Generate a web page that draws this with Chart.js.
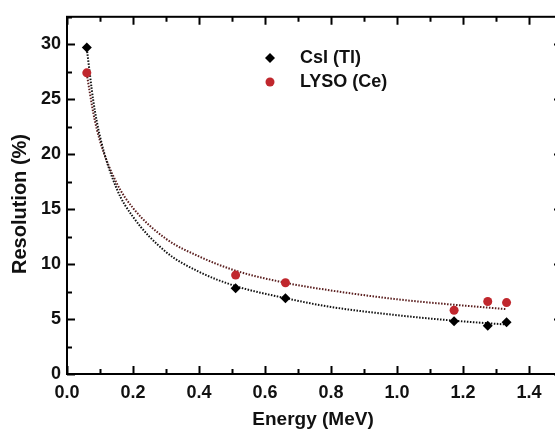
<!DOCTYPE html>
<html>
<head>
<meta charset="utf-8">
<script src="https://cdn.jsdelivr.net/npm/chart.js@4.4.1/dist/chart.umd.min.js"></script>
<style>
  html, body { margin: 0; padding: 0; background: #fff; overflow: hidden; }
  canvas { display: block; }
</style>
</head>
<body>
<canvas id="chart" width="570" height="430"></canvas>
<script>
// measured points
const energy = [0.06, 0.511, 0.662, 1.173, 1.275, 1.332];
const csi = [29.7, 7.8, 6.9, 4.8, 4.4, 4.7];
const lyso = [27.4, 9.0, 8.3, 5.8, 6.6, 6.5];

// fit curves
const fitEnergy = [0.06, 0.08, 0.1, 0.15, 0.2, 0.3, 0.4, 0.511, 0.662, 0.8, 1.0, 1.173, 1.332];
const csiFit = [29.6, 24.8, 21.6, 16.9, 14.3, 11.1, 9.3, 8.0, 6.9, 6.1, 5.35, 4.85, 4.5];
const lysoFit = [27.3, 23.7, 21.2, 17.4, 15.1, 12.3, 10.7, 9.4, 8.3, 7.6, 6.8, 6.3, 5.9];

const xTicks = [0, 0.2, 0.4, 0.6, 0.8, 1.0, 1.2, 1.4];
const yTicks = [0, 5, 10, 15, 20, 25, 30];

const FONT = "'Liberation Sans', Arial, sans-serif";
const pts = (xs, ys) => xs.map((x, i) => ({ x: x, y: ys[i] }));

// frame, inward ticks, legend and axis titles
const framePlugin = {
  id: 'frame',
  afterDatasetsDraw(chart) {
    const ctx = chart.ctx;
    const a = chart.chartArea;
    const xs = chart.scales.x, ys = chart.scales.y;
    ctx.save();
    ctx.strokeStyle = '#000';
    ctx.lineWidth = 2;
    ctx.strokeRect(a.left, a.top, a.right - a.left, a.bottom - a.top);
    ctx.lineWidth = 2;
    ctx.beginPath();
    for (let v = 0; v <= 1.5001; v += 0.1) {
      const major = Math.abs(Math.round(v * 10) % 2) === 0;
      const len = major ? 8 : 5;
      const px = Math.round(xs.getPixelForValue(v)) + 0.5;
      ctx.moveTo(px, a.bottom); ctx.lineTo(px, a.bottom - len);
      ctx.moveTo(px, a.top); ctx.lineTo(px, a.top + len);
    }
    for (let v = 0; v <= 32.5; v += 2.5) {
      const major = Math.round(v * 2) % 10 === 0;
      const len = major ? 8 : 5;
      const py = Math.round(ys.getPixelForValue(v)) + 0.5;
      ctx.moveTo(a.left, py); ctx.lineTo(a.left + len, py);
      ctx.moveTo(a.right, py); ctx.lineTo(a.right - len, py);
    }
    ctx.stroke();

    // legend
    const lx = 270;
    ctx.fillStyle = '#000';
    ctx.beginPath();
    ctx.moveTo(lx, 58 - 5); ctx.lineTo(lx + 5, 58); ctx.lineTo(lx, 58 + 5); ctx.lineTo(lx - 5, 58);
    ctx.closePath(); ctx.fill();
    ctx.fillStyle = '#c0272d';
    ctx.beginPath(); ctx.arc(lx, 82, 4.5, 0, Math.PI * 2); ctx.fill();
    ctx.fillStyle = '#111';
    ctx.font = 'bold 18px ' + FONT;
    ctx.textAlign = 'left';
    ctx.textBaseline = 'middle';
    ctx.fillText('CsI (Tl)', 300, 58);
    ctx.fillText('LYSO (Ce)', 300, 82);

    // axis titles
    ctx.textAlign = 'center';
    ctx.font = 'bold 19px ' + FONT;
    ctx.fillText('Energy (MeV)', 313, 420);
    ctx.translate(20, 204);
    ctx.rotate(-Math.PI / 2);
    ctx.font = 'bold 20px ' + FONT;
    ctx.fillText('Resolution (%)', 0, 0);
    ctx.restore();
  }
};

new Chart(document.getElementById('chart'), {
  type: 'scatter',
  data: {
    datasets: [
      {
        label: 'CsI (Tl) fit',
        data: pts(fitEnergy, csiFit),
        showLine: true,
        borderColor: '#111',
        borderWidth: 2,
        borderDash: [1.5, 1.5],
        pointRadius: 0,
        cubicInterpolationMode: 'monotone',
        order: 3
      },
      {
        label: 'LYSO (Ce) fit',
        data: pts(fitEnergy, lysoFit),
        showLine: true,
        borderColor: '#5a1e1e',
        borderWidth: 2,
        borderDash: [1.5, 1.5],
        pointRadius: 0,
        cubicInterpolationMode: 'monotone',
        order: 3
      },
      {
        label: 'CsI (Tl)',
        data: pts(energy, csi),
        pointStyle: 'rectRot',
        pointRadius: 5,
        backgroundColor: '#000',
        borderColor: '#000',
        borderWidth: 0,
        order: 1
      },
      {
        label: 'LYSO (Ce)',
        data: pts(energy, lyso),
        pointStyle: 'circle',
        pointRadius: 4.5,
        backgroundColor: '#c0272d',
        borderColor: '#c0272d',
        borderWidth: 0,
        order: 2
      }
    ]
  },
  options: {
    responsive: false,
    animation: false,
    devicePixelRatio: 1,
    layout: { padding: { left: 0, top: 11, right: 8, bottom: 0 } },
    plugins: { legend: { display: false }, tooltip: { enabled: false } },
    scales: {
      x: {
        type: 'linear', min: 0, max: 1.5,
        grid: { display: false, drawTicks: false },
        border: { display: false },
        afterBuildTicks: s => { s.ticks = xTicks.map(v => ({ value: v })); },
        afterFit: s => { s.height = 56; },
        ticks: {
          padding: 8,
          color: '#111',
          font: { family: FONT, size: 18, weight: 'bold' },
          callback: v => Number(v).toFixed(1)
        }
      },
      y: {
        type: 'linear', min: 0, max: 32.5,
        grid: { display: false, drawTicks: false },
        border: { display: false },
        afterBuildTicks: s => { s.ticks = yTicks.map(v => ({ value: v })); },
        afterFit: s => { s.width = 67; },
        ticks: {
          padding: 6,
          color: '#111',
          font: { family: FONT, size: 18, weight: 'bold' }
        }
      }
    }
  },
  plugins: [framePlugin]
});
</script>
</body>
</html>
